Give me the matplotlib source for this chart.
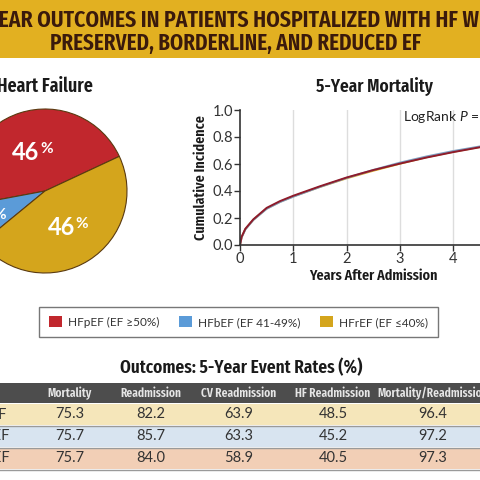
import matplotlib
matplotlib.use("Agg")
import matplotlib.pyplot as plt
from matplotlib.patches import Rectangle, Patch
import numpy as np
import logging
logging.getLogger("matplotlib.font_manager").setLevel(logging.ERROR)

W = H = 480.0

# ---------------- data ----------------
ef_groups = ["HFpEF", "HFbEF", "HFrEF"]
legend_labels = ["HFpEF (EF \u226550%)", "HFbEF (EF 41-49%)", "HFrEF (EF \u226440%)"]
pie_shares = [46, 8, 46]
group_colors = ["#C1272D", "#5B9BD8", "#D4A51C"]
line_colors = ["#8E1B2B", "#7E9FC0", "#E0A81E"]

years = [0, 0.03, 0.1, 0.25, 0.5, 0.75, 1, 1.5, 2, 2.5, 3, 3.5, 4, 4.5, 5]
cum_hfpef = [0, 0.060, 0.120, 0.190, 0.275, 0.325, 0.365, 0.435, 0.500, 0.555, 0.603, 0.648, 0.688, 0.724, 0.757]
cum_hfbef = [0, 0.055, 0.115, 0.185, 0.268, 0.318, 0.358, 0.430, 0.497, 0.556, 0.610, 0.656, 0.696, 0.730, 0.757]
cum_hfref = [0, 0.057, 0.117, 0.187, 0.270, 0.320, 0.360, 0.430, 0.494, 0.550, 0.602, 0.650, 0.690, 0.726, 0.753]
x_ticks = [0, 1, 2, 3, 4, 5]
y_ticks = [0.0, 0.2, 0.4, 0.6, 0.8, 1.0]

table_cols = ["Mortality", "Readmission", "CV Readmission", "HF Readmission", "Mortality/Readmission"]
table_rows = ["HFpEF", "HFbEF", "HFrEF"]
rates_mortality = [75.3, 75.7, 75.7]
rates_readmission = [82.2, 85.7, 84.0]
rates_cv_readmission = [63.9, 63.3, 58.9]
rates_hf_readmission = [48.5, 45.2, 40.5]
rates_mort_readm = [96.4, 97.2, 97.3]
row_colors = ["#F5E6BA", "#D8E4F0", "#F2CFB6"]

# ---------------- helpers ----------------
def fx(px):
    return px / W

def fy(py):
    return 1 - py / H

plt.rcParams["mathtext.fontset"] = "custom"
plt.rcParams["mathtext.rm"] = "Lato"
plt.rcParams["mathtext.it"] = "Lato:italic"

COND = dict(family=["Fira Sans Extra Condensed", "DejaVu Sans"], fontweight=600)
BODY = ["Lato", "DejaVu Sans"]

fig = plt.figure(figsize=(4.8, 4.8), dpi=100)
fig.patch.set_facecolor("white")

# ---------------- banner ----------------
fig.add_artist(Rectangle((0, fy(58)), 1, 58 / H, transform=fig.transFigure,
                         facecolor="#E2B021", edgecolor="none", zorder=0))
fig.text(fx(238), fy(20), "5-YEAR OUTCOMES IN PATIENTS HOSPITALIZED WITH HF WITH",
         ha="center", va="center", color="#3A1A0C", fontsize=17, **COND)
fig.text(fx(236), fy(43), "PRESERVED, BORDERLINE, AND REDUCED EF",
         ha="center", va="center", color="#3A1A0C", fontsize=16.5, **COND)

# ---------------- pie ----------------
cx, cy, r = 45, 191, 82
axp = fig.add_axes([fx(cx - r), fy(cy + r), 2 * r / W, 2 * r / H])
wedges, _ = axp.pie(pie_shares, colors=group_colors, startangle=25, counterclock=True,
                    radius=1, wedgeprops=dict(edgecolor="#5A3A10", linewidth=0.8))
axp.set_xlim(-1, 1)
axp.set_ylim(-1, 1)
axp.set_aspect("equal")
axp.axis("off")
label_r = [0.49, 0.80, 0.53]
for w, share, lr in zip(wedges, pie_shares, label_r):
    ang = np.deg2rad((w.theta1 + w.theta2) / 2)
    x, y = lr * np.cos(ang), lr * np.sin(ang)
    split = x + 0.08
    axp.text(split, y, f"{share}", ha="right", va="center", color="white",
             fontsize=17, fontweight="bold", family=BODY)
    axp.text(split + 0.01, y + 0.04, "%", ha="left", va="center", color="white",
             fontsize=11, fontweight="bold", family=BODY)
fig.text(fx(93), fy(86), "Types of Heart Failure", ha="right", va="center",
         color="#1A1A1A", fontsize=14, **COND)

# ---------------- KM curves ----------------
x0, y0 = 240, 245
px_per_year = 53.3
ax = fig.add_axes([fx(x0), fy(y0), 5 * px_per_year / W, (y0 - 110) / H])
for yy, c in zip([cum_hfref, cum_hfbef, cum_hfpef], [line_colors[2], line_colors[1], line_colors[0]]):
    ax.plot(years, yy, color=c, lw=1.4, solid_capstyle="round")
ax.set_xlim(0, 5)
ax.set_ylim(0, 1.0)
ax.set_xticks(x_ticks)
ax.set_yticks(y_ticks)
ax.set_yticklabels([f"{v:.1f}" for v in y_ticks])
for xv in x_ticks[1:]:
    ax.axvline(xv, color="#DDDDDD", lw=1, zorder=0)
for s in ["top", "right"]:
    ax.spines[s].set_visible(False)
for s in ["left", "bottom"]:
    ax.spines[s].set_color("#333333")
    ax.spines[s].set_linewidth(1.2)
ax.tick_params(direction="out", length=4, width=1, color="#333333",
               labelsize=10.5, labelcolor="#333333", pad=1)
for lab in ax.get_xticklabels() + ax.get_yticklabels():
    lab.set_family(BODY)
ax.set_xlabel("Years After Admission", fontsize=11, color="#1A1A1A", labelpad=2, **COND)
ax.set_ylabel("Cumulative Incidence", fontsize=11, color="#1A1A1A", labelpad=3, **COND)
ax.text(3.05, 0.95, "LogRank $\\mathit{P}$ = 0.56", ha="left", va="center",
        fontsize=10, color="#222222", family=BODY)
fig.text(fx(374), fy(87), "5-Year Mortality", ha="center", va="center",
         color="#1A1A1A", fontsize=13.5, **COND)

# ---------------- legend ----------------
handles = [Patch(facecolor=c, edgecolor="none") for c in group_colors]
leg = fig.legend(handles, legend_labels, ncol=3, loc="center",
                 bbox_to_anchor=(fx(238.5), fy(322)), frameon=True, fancybox=False,
                 edgecolor="#555555", handlelength=1.1, handleheight=1.1,
                 handletextpad=0.5, columnspacing=1.7, borderpad=0.8,
                 prop=dict(family=BODY, size=8.5))
leg.get_frame().set_linewidth(1.0)
for t in leg.get_texts():
    t.set_color("#333333")

# ---------------- table ----------------
fig.text(fx(241), fy(368), "Outcomes: 5-Year Event Rates (%)", ha="center", va="center",
         color="#1A1A1A", fontsize=13.5, **COND)
col_x = [70, 151, 239, 333, 433]
fig.add_artist(Rectangle((0, fy(403)), 1, 20 / H, transform=fig.transFigure,
                         facecolor="#4D4D4D", edgecolor="none"))
for name, xc in zip(table_cols, col_x):
    fig.text(fx(xc), fy(393), name, ha="center", va="center", color="#E6E6E6",
             fontsize=9, **COND)
columns = [rates_mortality, rates_readmission, rates_cv_readmission,
           rates_hf_readmission, rates_mort_readm]
row_top = [404, 426, 448]
row_h = 21
label_right = [7, 10, 10]
for i, (rname, rc) in enumerate(zip(table_rows, row_colors)):
    top = row_top[i]
    fig.add_artist(Rectangle((0, fy(top + row_h)), 1, row_h / H, transform=fig.transFigure,
                             facecolor=rc, edgecolor="none"))
    fig.add_artist(plt.Line2D([0, 1], [fy(top + row_h + 0.5)] * 2, transform=fig.transFigure,
                              color="#9A9A9A", lw=1.0))
    yc = top + row_h / 2
    fig.text(fx(label_right[i]), fy(yc), rname, ha="right", va="center",
             color="#333333", fontsize=10.5, family=BODY)
    for col, xc in zip(columns, col_x):
        fig.text(fx(xc), fy(yc), f"{col[i]:.1f}", ha="center", va="center",
                 color="#333333", fontsize=10.5, family=BODY)

fig.savefig("out.png", dpi=100)
